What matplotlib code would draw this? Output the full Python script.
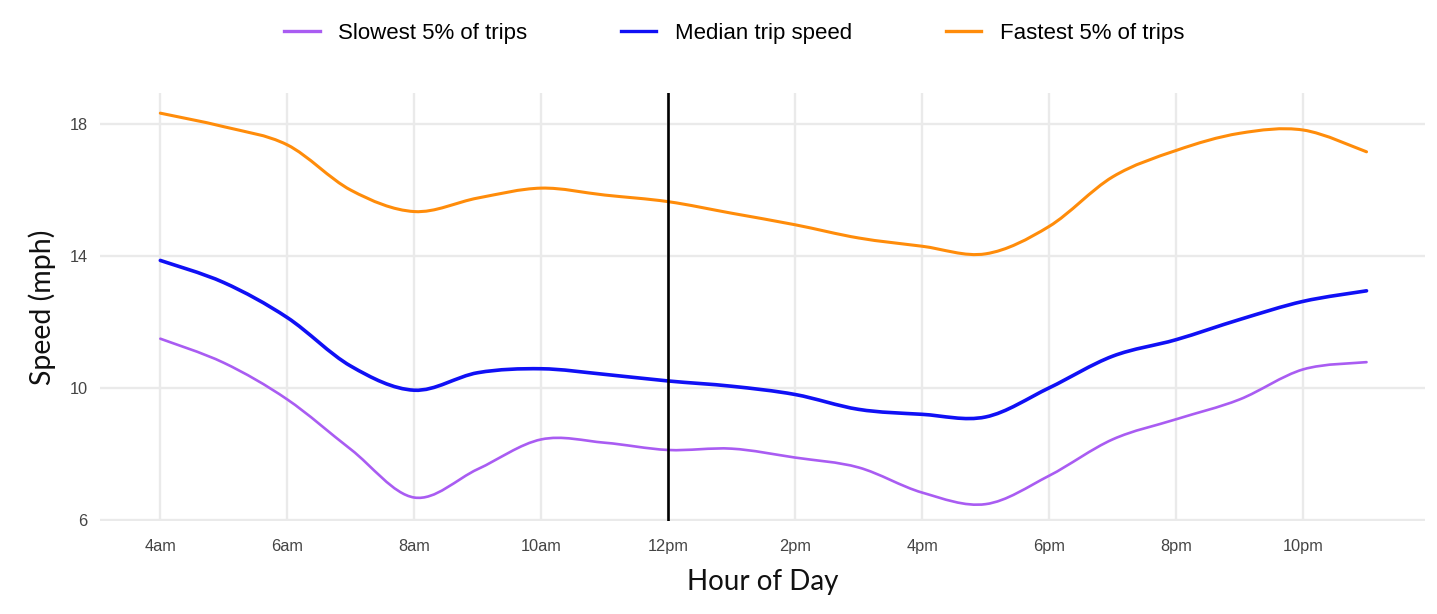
import matplotlib
matplotlib.use("Agg")
import matplotlib.pyplot as plt
from matplotlib.path import Path
from matplotlib.patches import PathPatch
from matplotlib.lines import Line2D
import numpy as np

# Hour of day (24h clock) and speed percentiles in mph
hours = [4, 5, 6, 7, 8, 9, 10, 11, 12, 13, 14, 15, 16, 17, 18, 19, 20, 21, 22, 23]
slowest = [11.50, 10.77, 9.66, 8.15, 6.69, 7.55, 8.45, 8.35, 8.13, 8.17,
           7.90, 7.60, 6.84, 6.49, 7.35, 8.45, 9.06, 9.66, 10.57, 10.79]
median = [13.87, 13.20, 12.14, 10.67, 9.94, 10.47, 10.59, 10.42, 10.22, 10.06,
          9.81, 9.36, 9.21, 9.13, 10.01, 10.97, 11.47, 12.08, 12.63, 12.95]
fastest = [18.33, 17.92, 17.37, 16.00, 15.35, 15.76, 16.06, 15.85, 15.65, 15.30,
           14.95, 14.55, 14.30, 14.07, 14.90, 16.40, 17.20, 17.72, 17.82, 17.16]

series_labels = ["Slowest 5% of trips", "Median trip speed", "Fastest 5% of trips"]
x_ticks = [4, 6, 8, 10, 12, 14, 16, 18, 20, 22]
x_tick_labels = ["4am", "6am", "8am", "10am", "12pm", "2pm", "4pm", "6pm", "8pm", "10pm"]
y_ticks = [6, 10, 14, 18]
noon = 12

colors = ["#A95CF2", "#1010F5", "#FF8C0A"]
widths = [1.9, 2.6, 2.2]


def smooth_path(xs, ys):
    """Catmull-Rom curve through the points, expressed as cubic Bezier segments."""
    pts = np.column_stack([xs, ys]).astype(float)
    n = len(pts)
    verts = [pts[0]]
    codes = [Path.MOVETO]
    for i in range(n - 1):
        p0 = pts[i - 1] if i > 0 else pts[i]
        p1 = pts[i]
        p2 = pts[i + 1]
        p3 = pts[i + 2] if i + 2 < n else pts[i + 1]
        c1 = p1 + (p2 - p0) / 6.0
        c2 = p2 - (p3 - p1) / 6.0
        verts.extend([c1, c2, p2])
        codes.extend([Path.CURVE4] * 3)
    return Path(verts, codes)


fig = plt.figure(figsize=(14.37, 6.14), dpi=100)
ax = fig.add_axes([0.0696, 0.1515, 0.922, 0.697])

grid_color = "#EAEAEA"
for yt in y_ticks:
    ax.axhline(yt, color=grid_color, lw=1.7, zorder=0)
for xt in x_ticks:
    ax.axvline(xt, color=grid_color, lw=1.7, zorder=0)

handles = []
for ys, c, w, lab in zip([slowest, median, fastest], colors, widths, series_labels):
    patch = PathPatch(smooth_path(hours, ys), facecolor="none", edgecolor=c,
                      lw=w, capstyle="round", joinstyle="round", zorder=3)
    ax.add_patch(patch)
    handles.append(Line2D([], [], color=c, lw=2.4, label=lab))

ax.axvline(noon, color="black", lw=1.9, zorder=4)

ax.set_xlim(3.05, 23.92)
ax.set_ylim(5.98, 18.94)
ax.set_xticks(x_ticks)
ax.set_xticklabels(x_tick_labels)
ax.set_yticks(y_ticks)
ax.set_yticklabels([str(v) for v in y_ticks])
ax.tick_params(axis="both", length=0, labelsize=11.8, labelcolor="#444444")
ax.tick_params(axis="x", pad=13)
ax.tick_params(axis="y", pad=9)
for lbl in ax.get_xticklabels() + ax.get_yticklabels():
    lbl.set_family("Liberation Sans")
for s in ax.spines.values():
    s.set_visible(False)

ax.set_xlabel("Hour of Day", family="Lato", fontsize=20, color="#111111",
              labelpad=11)
ax.set_ylabel("Speed (mph)", family="Lato", fontsize=20.5, color="#111111",
              labelpad=10)

fig.legend(handles=handles, loc="center", bbox_to_anchor=(0.511, 0.945),
           ncol=3, frameon=False, prop={"family": "Liberation Sans", "size": 16},
           handlelength=1.6, handletextpad=0.85, columnspacing=4.2)

fig.savefig("out.png", dpi=100, facecolor="white")
